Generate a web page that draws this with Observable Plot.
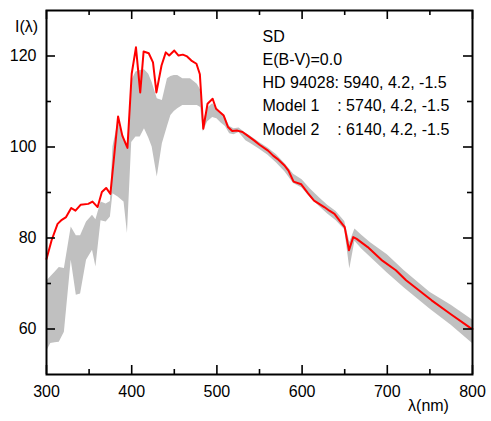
<!DOCTYPE html>
<html>
<head>
<meta charset="utf-8">
<script src="https://cdn.jsdelivr.net/npm/d3@7"></script>
<script src="https://cdn.jsdelivr.net/npm/@observablehq/plot@0.6"></script>
<style>
  body { margin: 0; background: #fff; }
  svg text { white-space: pre; }
</style>
</head>
<body>
<div id="chart"></div>
<script>
// Observed spectrum HD 94028 (red)
const obsWl = [300,306,313,318,323,329,334,340,349,354,360,365,370,375,384,389,395,400,405,410,414,420,425,429,435,440,444,450,455,460,465,470,476,480,484,489,495,499,504,508,513,518,524,530,536,544,550,560,566,571,579,584,590,599,607,614,626,632,638,644,650,655,660,664,677,693,710,722,752,775,797,800];
const obsI  = [75.4,79.5,83.1,84.0,84.6,86.6,86.0,87.3,87.5,88.0,86.8,90.1,91.0,89.7,106.7,102.5,99.8,116.1,121.9,112.0,121.0,120.6,118.6,112.0,117.9,120.8,120.1,121.2,120.1,120.3,119.9,119.0,118.3,116.0,104.0,109.5,110.6,108.4,107.6,106.9,104.4,103.5,103.6,103.3,102.5,101.4,100.5,99.2,98.1,97.4,96.0,94.8,92.4,91.8,89.8,88.2,86.8,86.0,85.3,83.8,82.4,77.3,80.2,79.8,78.0,75.2,72.9,70.7,66.3,63.2,60.3,60.0];

// Model band (gray): lower / upper envelope of Model 1 and Model 2
const bandWl    = [300,305,310,315,321,329,335,340,347,354,358,364,370,375,378,384,391,395,400,405,410,415,420,424,430,436,442,446,450,454,460,469,477,481,484,489,495,500,505,510,515,520,526,534,540,550,560,570,580,590,600,610,620,630,640,650,656,662,670,680,700,720,750,775,800];
const bandLow   = [55.0,56.8,57.0,57.1,59.3,75.1,67.4,67.7,75.1,77.3,73.6,83.8,83.5,84.6,89.7,89.0,87.9,81.0,101.0,102.2,102.2,104.0,102.0,100.0,93.4,100.7,104.5,106.9,107.8,108.4,109.1,109.1,109.1,108.7,103.3,105.5,106.5,106.2,105.3,104.5,102.9,102.7,103.2,101.4,100.7,99.5,98.2,96.5,94.5,92.0,91.0,88.8,87.0,85.3,83.8,81.8,73.2,79.3,77.6,75.8,72.3,69.0,64.4,60.8,56.8];
const bandHigh  = [70.5,71.5,72.5,73.5,73.3,82.4,80.5,80.5,83.5,85.0,84.0,87.9,87.5,88.0,100.0,105.5,102.0,99.5,114.5,116.5,116.8,117.0,116.0,114.2,110.6,110.2,115.0,115.5,115.7,115.7,115.0,115.0,113.8,112.5,105.5,108.5,109.5,108.5,107.5,106.5,104.5,104.0,104.2,103.0,102.3,101.0,99.8,98.3,96.3,94.0,92.8,90.7,88.9,87.2,85.8,83.6,79.0,82.0,80.6,79.0,76.3,72.8,68.1,65.2,62.0];

// Axis ticks
const xMajor = [300,400,500,600,700,800];
const xMinor = [350,450,550,650,750];
const yMajor = [60,80,100,120];
const yMinor = [70,90,110];

// Annotation text
const notes = ["SD", "E(B-V)=0.0", "HD 94028: 5940, 4.2, -1.5", "Model 1    : 5740, 4.2, -1.5", "Model 2    : 6140, 4.2, -1.5"];

const band = bandWl.map((w, i) => ({w, lo: bandLow[i], hi: bandHigh[i]}));
const obs = obsWl.map((w, i) => ({w, v: obsI[i]}));

const W = 491, H = 421, mL = 46, mR = 19, mT = 10, mB = 47;
const pw = W - mL - mR, ph = H - mT - mB;
const major = 9, minor = 5;
const tk = {stroke: "#000", strokeWidth: 1.6};
const FS = 16;

const chart = Plot.plot({
  width: W, height: H,
  marginLeft: mL, marginRight: mR, marginTop: mT, marginBottom: mB,
  style: {fontFamily: "'Liberation Sans', Arial, sans-serif", fontSize: FS + "px", background: "#fff", color: "#000"},
  x: {domain: [300, 800], axis: null, label: null},
  y: {domain: [50, 130], axis: null, label: null},
  marks: [
    Plot.areaY(band, {x: "w", y1: "lo", y2: "hi", fill: "#c0c0c0", curve: "linear"}),
    Plot.line(obs, {x: "w", y: "v", stroke: "#ff0000", strokeWidth: 2, curve: "linear"}),
    // ticks (inward) on all four sides
    Plot.tickX(xMajor, {x: d => d, insetTop: ph - major, ...tk}),
    Plot.tickX(xMinor, {x: d => d, insetTop: ph - minor, ...tk}),
    Plot.tickX(xMajor, {x: d => d, insetBottom: ph - major, ...tk}),
    Plot.tickX(xMinor, {x: d => d, insetBottom: ph - minor, ...tk}),
    Plot.tickY(yMajor, {y: d => d, insetRight: pw - major, ...tk}),
    Plot.tickY(yMinor, {y: d => d, insetRight: pw - minor, ...tk}),
    Plot.tickY(yMajor, {y: d => d, insetLeft: pw - major, ...tk}),
    Plot.tickY(yMinor, {y: d => d, insetLeft: pw - minor, ...tk}),
    Plot.axisX({ticks: xMajor, tickSize: 0, tickPadding: 11, tickFormat: d => String(d), fontSize: FS, label: null}),
    Plot.axisY({ticks: yMajor, tickSize: 0, tickPadding: 10, tickFormat: d => String(d), fontSize: FS, label: null}),
    Plot.frame({stroke: "#000", strokeWidth: 2}),
    ...notes.map((t, i) => Plot.text([t], {text: d => d, frameAnchor: "top-left", textAnchor: "start", dx: 216, dy: 20 + i * 23.2, fontSize: FS, fill: "#000"})),
    Plot.text(["I(λ)"], {text: d => d, frameAnchor: "top-left", textAnchor: "middle", dx: -20, dy: 10, fontSize: FS}),
    Plot.text(["λ(nm)"], {text: d => d, frameAnchor: "bottom-right", textAnchor: "middle", dx: -44, dy: 36, fontSize: FS})
  ]
});
document.getElementById("chart").appendChild(chart);
</script>
</body>
</html>
